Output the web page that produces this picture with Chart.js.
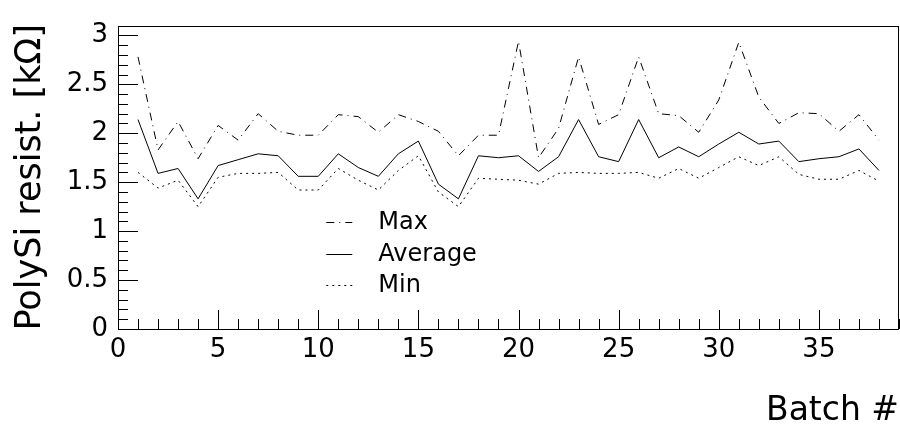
<!DOCTYPE html>
<html>
<head>
<meta charset="utf-8">
<script src="https://cdn.jsdelivr.net/npm/chart.js@4"></script>
<style>
html,body{margin:0;padding:0;background:#fff;}
#wrap{width:900px;height:431px;}
</style>
</head>
<body>
<div id="wrap"><canvas id="myChart" width="900" height="431"></canvas></div>
<script>
// batch numbers
var batches = [1,2,3,4,5,6,7,8,9,10,11,12,13,14,15,16,17,18,19,20,21,22,23,24,25,26,27,28,29,30,31,32,33,34,35,36,37,38];
// PolySi resistance [kOhm]
var maxRes = [2.78,1.83,2.12,1.74,2.08,1.93,2.20,2.02,1.98,1.98,2.19,2.17,2.01,2.19,2.12,2.02,1.77,1.98,1.98,2.94,1.75,2.05,2.78,2.09,2.19,2.78,2.20,2.18,2.01,2.34,2.93,2.37,2.10,2.21,2.20,2.02,2.19,1.93];
var avgRes = [2.14,1.59,1.64,1.33,1.67,1.73,1.79,1.77,1.56,1.56,1.79,1.65,1.56,1.79,1.92,1.48,1.33,1.77,1.75,1.77,1.61,1.76,2.14,1.76,1.71,2.14,1.75,1.86,1.76,1.89,2.01,1.89,1.92,1.71,1.74,1.76,1.84,1.62];
var minRes = [1.60,1.44,1.52,1.25,1.55,1.59,1.59,1.60,1.42,1.42,1.64,1.52,1.42,1.62,1.77,1.40,1.25,1.54,1.53,1.52,1.48,1.59,1.60,1.59,1.59,1.60,1.54,1.64,1.54,1.65,1.76,1.67,1.76,1.58,1.53,1.53,1.62,1.51];
var seriesNames = ["Max","Average","Min"];
var xTicksMajor = [0,5,10,15,20,25,30,35];
var yTicksMajor = [0,0.5,1,1.5,2,2.5,3];

var FONT = "'DejaVu Sans', sans-serif";

function pts(arr){
  return batches.map(function(b,i){ return {x:b, y:arr[i]}; });
}

// frame + inward ticks like the original
var frameTicks = {
  id:"frameTicks",
  afterDraw:function(chart){
    var ctx = chart.ctx, a = chart.chartArea;
    var xs = chart.scales.x, ys = chart.scales.y;
    ctx.save();
    ctx.strokeStyle = "#000";
    ctx.lineWidth = 1;
    ctx.strokeRect(Math.round(a.left)+0.5, Math.round(a.top)+0.5, Math.round(a.right-a.left)-1, Math.round(a.bottom-a.top));
    ctx.beginPath();
    for (var i = xs.min; i <= xs.max; i++) {
      var px = Math.round(xs.getPixelForValue(i)) + 0.5;
      var len = (i % 5 === 0) ? 19 : 10;
      ctx.moveTo(px, a.bottom);
      ctx.lineTo(px, a.bottom - len);
    }
    for (var k = 0; k <= 31; k++) {
      var v = k / 10;
      var py = Math.round(ys.getPixelForValue(v)) + 0.5;
      var l2 = (k % 5 === 0) ? 20 : 10;
      ctx.moveTo(a.left, py);
      ctx.lineTo(a.left + l2, py);
    }
    ctx.stroke();
    ctx.restore();
  }
};

// legend drawn inside the plot
var insideLegend = {
  id:"insideLegend",
  afterDraw:function(chart){
    var ctx = chart.ctx;
    var xs = chart.scales.x, ys = chart.scales.y;
    var x0 = xs.getPixelForValue(10.4), x1 = xs.getPixelForValue(11.7), xt = xs.getPixelForValue(13);
    var yv = [1.09, 0.77, 0.45];
    ctx.save();
    ctx.font = "24px " + FONT;
    ctx.fillStyle = "#000";
    ctx.textBaseline = "middle";
    chart.data.datasets.forEach(function(ds, i){
      var y = Math.round(ys.getPixelForValue(yv[i])) + 0.5;
      ctx.beginPath();
      ctx.setLineDash(ds.borderDash || []);
      ctx.strokeStyle = ds.borderColor;
      ctx.lineWidth = ds.borderWidth;
      ctx.moveTo(x0, y);
      ctx.lineTo(x1, y);
      ctx.stroke();
      ctx.setLineDash([]);
      ctx.fillText(ds.label, xt, y);
    });
    ctx.restore();
  }
};

let myChart = document.getElementById("myChart").getContext("2d");

let lineChart = new Chart(myChart, {
  type:"line",
  data:{
    datasets:[{
      label:seriesNames[0],
      data:pts(maxRes),
      borderColor:"#000",
      borderWidth:1,
      borderDash:[8,5,1,5],
      pointRadius:0,
      tension:0
    },{
      label:seriesNames[1],
      data:pts(avgRes),
      borderColor:"#000",
      borderWidth:1,
      pointRadius:0,
      tension:0
    },{
      label:seriesNames[2],
      data:pts(minRes),
      borderColor:"#000",
      borderWidth:1,
      borderDash:[2,4],
      pointRadius:0,
      tension:0
    }]
  },
  options:{
    responsive:false,
    animation:false,
    layout:{padding:{top:4, right:1, left:0, bottom:0}},
    plugins:{
      legend:{display:false},
      tooltip:{enabled:false}
    },
    scales:{
      x:{
        type:"linear",
        min:0,
        max:39,
        afterFit:function(s){ s.height = 102; },
        afterBuildTicks:function(s){ s.ticks = xTicksMajor.map(function(v){ return {value:v}; }); },
        grid:{display:false, drawTicks:false},
        border:{display:false},
        ticks:{color:"#000", font:{family:FONT, size:26}, padding:6, maxRotation:0},
        title:{display:true, text:"Batch #", align:"end", color:"#000", font:{family:FONT, size:33}, padding:{top:0, bottom:0}}
      },
      y:{
        type:"linear",
        min:0,
        max:3.1,
        afterFit:function(s){ s.width = 118; },
        afterBuildTicks:function(s){ s.ticks = yTicksMajor.map(function(v){ return {value:v}; }); },
        grid:{display:false, drawTicks:false},
        border:{display:false},
        ticks:{color:"#000", font:{family:FONT, size:26}, padding:10,
          callback:function(v){ return String(v); }},
        title:{display:true, text:"PolySi resist. [kΩ]", color:"#000", font:{family:FONT, size:35}, padding:{top:10, bottom:4}}
      }
    }
  },
  plugins:[frameTicks, insideLegend]
});
</script>
</body>
</html>
